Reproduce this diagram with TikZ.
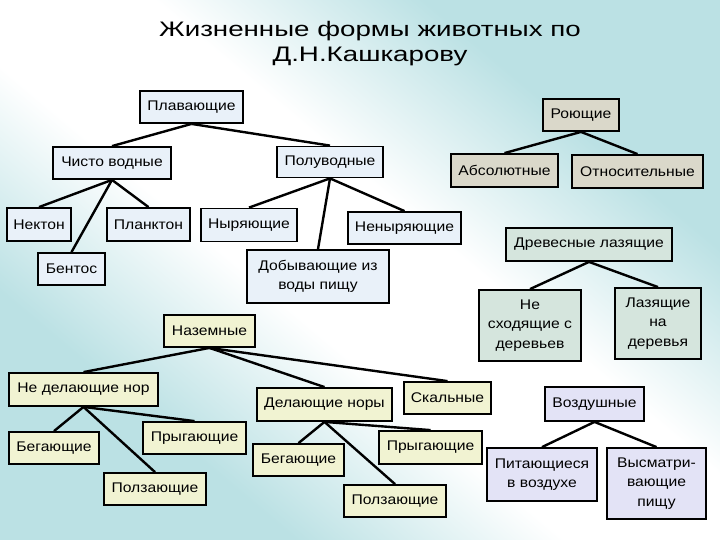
\documentclass[tikz,border=0pt]{standalone}
\usepackage{fontspec}
\setmainfont{Liberation Sans}[FakeStretch=1.12]
\newfontfamily\titlefont{Liberation Sans}[FakeStretch=1.32]

\definecolor{bgteal}{HTML}{BBE1E4}
\definecolor{waterfill}{HTML}{E9F1F9}
\definecolor{burrowfill}{HTML}{DAD8CA}
\definecolor{treefill}{HTML}{D5E5DD}
\definecolor{groundfill}{HTML}{F1F3D2}
\definecolor{airfill}{HTML}{E3E3F6}

\pgfdeclareverticalshading{slide}{100bp}{color(0bp)=(bgteal); color(30bp)=(bgteal);
    color(44bp)=(white); color(56bp)=(white); color(70bp)=(bgteal); color(100bp)=(bgteal)}

\begin{document}
\begin{tikzpicture}[x=1pt,y=-1pt,
    box/.style={draw,line width=1.8pt,inner sep=0pt,align=center,
        font=\fontsize{14}{19.5}\selectfont},
    water/.style={box,fill=waterfill},
    burrow/.style={box,fill=burrowfill},
    tree/.style={box,fill=treefill},
    ground/.style={box,fill=groundfill},
    air/.style={box,fill=airfill},
    link/.style={line width=2.4pt}]
    \useasboundingbox (0,0) rectangle (720,540);
    \shade[shading=slide,shading angle=-40] (0,0) rectangle (720,540);

    \node[align=center,font=\titlefont\fontsize{21}{25}\selectfont] (title) at (370,44)
        {Жизненные формы животных по\\Д.Н.Кашкарову};

    \node[water,minimum width=103pt,minimum height=32pt] (swim) at (191.5,107) {Плавающие};
    \node[water,minimum width=118pt,minimum height=32pt] (pure) at (112,163) {Чисто водные};
    \node[water,minimum width=106pt,minimum height=31pt] (semi) at (330,162) {Полуводные};
    \node[water,minimum width=64pt,minimum height=33pt] (nekton) at (39,224.5) {Нектон};
    \node[water,minimum width=83pt,minimum height=33pt] (plankton) at (148.5,224.5) {Планктон};
    \node[water,minimum width=67pt,minimum height=32pt] (benthos) at (71.5,269) {Бентос};
    \node[water,minimum width=96pt,minimum height=33pt] (diving) at (249,225) {Ныряющие};
    \node[water,minimum width=113pt,minimum height=32pt] (nondiving) at (404.5,228) {Неныряющие};
    \node[water,minimum width=142pt,minimum height=53pt] (catching) at (318,276.5)
        {Добывающие из\\воды пищу};

    \node[burrow,minimum width=76pt,minimum height=32pt] (burrowing) at (581,115) {Роющие};
    \node[burrow,minimum width=107pt,minimum height=33pt] (absolute) at (504.5,170.5) {Абсолютные};
    \node[burrow,minimum width=131pt,minimum height=33pt] (relative) at (637.5,171.5) {Относительные};

    \node[tree,minimum width=166pt,minimum height=33pt] (climbing) at (589,244.5) {Древесные лазящие};
    \node[tree,minimum width=102pt,minimum height=71pt] (staying) at (530,325.5)
        {Не\\сходящие с\\деревьев};
    \node[tree,minimum width=86pt,minimum height=71pt] (climbers) at (658,323.5)
        {Лазящие\\на\\деревья};

    \node[ground,minimum width=91pt,minimum height=32pt] (land) at (209.5,331) {Наземные};
    \node[ground,minimum width=149pt,minimum height=33pt] (noholes) at (83.5,389.5) {Не делающие нор};
    \node[ground,minimum width=135pt,minimum height=33pt] (holes) at (324.5,404.5) {Делающие норы};
    \node[ground,minimum width=87pt,minimum height=32pt] (rock) at (447.5,398) {Скальные};
    \node[ground,minimum width=90pt,minimum height=32pt] (runA) at (54,448) {Бегающие};
    \node[ground,minimum width=103pt,minimum height=32pt] (jumpA) at (194.5,438) {Прыгающие};
    \node[ground,minimum width=102pt,minimum height=32pt] (crawlA) at (155,489) {Ползающие};
    \node[ground,minimum width=91pt,minimum height=32pt] (runB) at (298.5,460) {Бегающие};
    \node[ground,minimum width=103pt,minimum height=33pt] (jumpB) at (430.5,447.5) {Прыгающие};
    \node[ground,minimum width=102pt,minimum height=32pt] (crawlB) at (395,501) {Ползающие};

    \node[air,minimum width=99pt,minimum height=34pt] (flying) at (594.5,404) {Воздушные};
    \node[air,minimum width=110pt,minimum height=53pt] (airfeed) at (542,474.5)
        {Питающиеся\\в воздухе};
    \node[air,minimum width=99pt,minimum height=71pt] (watching) at (656.5,483.5)
        {Высматри-\\вающие\\пищу};

    \draw[link] (swim.south) -- (pure.north);
    \draw[link] (swim.south) -- (semi.north);
    \draw[link] (pure.south) -- (nekton.north);
    \draw[link] (pure.south) -- (plankton.north);
    \draw[link] (pure.south) -- (benthos.north);
    \draw[link] (semi.south) -- (diving.north);
    \draw[link] (semi.south) -- (nondiving.north);
    \draw[link] (semi.south) -- (catching.north);

    \draw[link] (burrowing.south) -- (absolute.north);
    \draw[link] (burrowing.south) -- (relative.north);

    \draw[link] (climbing.south) -- (staying.north);
    \draw[link] (climbing.south) -- (climbers.north);

    \draw[link] (land.south) -- (noholes.north);
    \draw[link] (land.south) -- (holes.north);
    \draw[link] (land.south) -- (rock.north);
    \draw[link] (noholes.south) -- (runA.north);
    \draw[link] (noholes.south) -- (jumpA.north);
    \draw[link] (noholes.south) -- (crawlA.north);
    \draw[link] (holes.south) -- (runB.north);
    \draw[link] (holes.south) -- (jumpB.north);
    \draw[link] (holes.south) -- (crawlB.north);

    \draw[link] (flying.south) -- (airfeed.north);
    \draw[link] (flying.south) -- (watching.north);
\end{tikzpicture}
\end{document}
